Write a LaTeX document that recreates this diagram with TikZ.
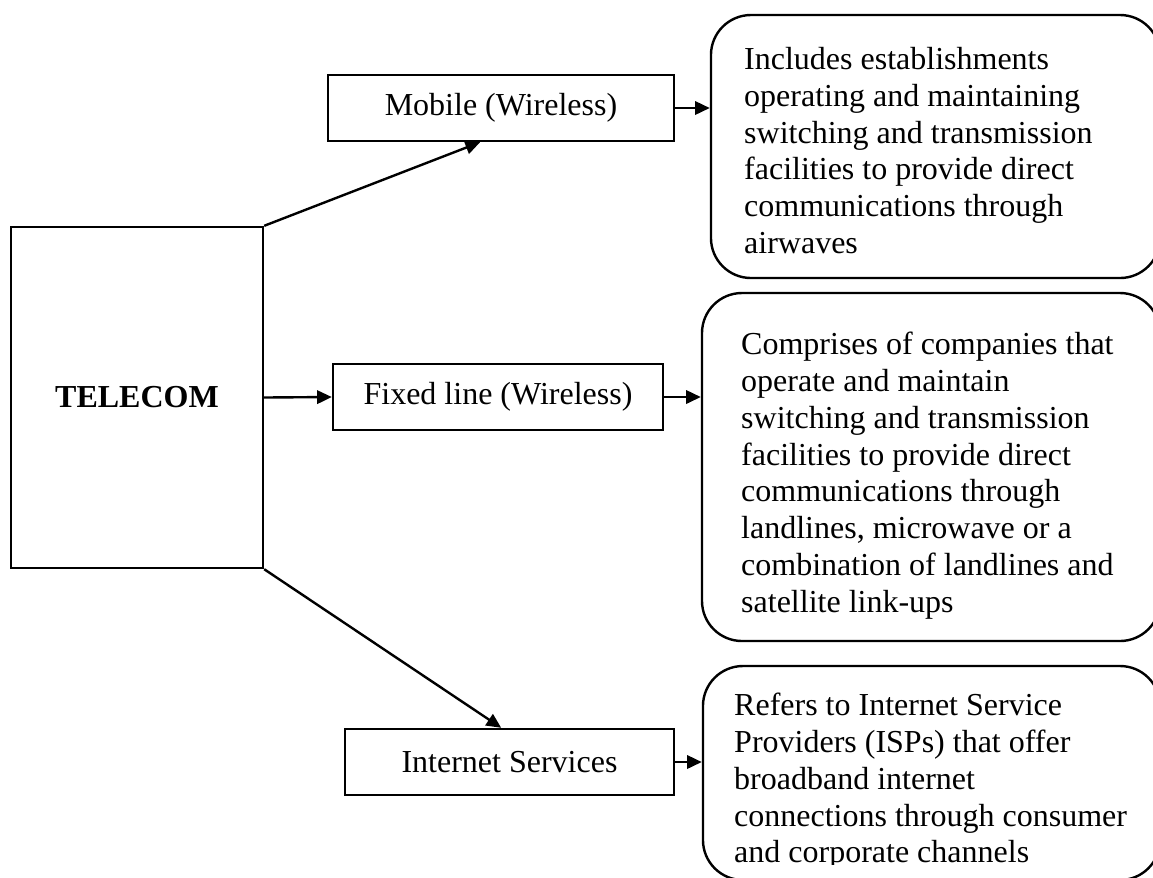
\documentclass[tikz,border=0pt]{standalone}
\usepackage{fontspec}
\setmainfont{Liberation Serif}
\usetikzlibrary{arrows.meta,calc}

\begin{document}
\begin{tikzpicture}[x=0.375pt,y=-0.375pt,line width=0.9pt,
        font=\fontsize{12}{13.8}\selectfont,
        box/.style={draw,rectangle,minimum height=24.75pt,inner sep=0pt},
        descbox/.style={draw,rectangle,rounded corners=15pt,inner sep=0pt},
        desctext/.style={anchor=north west,align=left,inner sep=0pt},
        link/.style={-{Triangle[length=5.5pt,width=5pt]}}]
            \useasboundingbox (0,0) rectangle (1153,877);
            \node [draw,minimum width=94.5pt,minimum height=127.875pt,font=\fontsize{12}{13.8}\selectfont\bfseries] (T) at (137,397.5) {TELECOM};
            \node [box,minimum width=129.75pt] (M) at (501,108) {Mobile (Wireless)};
            \node [box,minimum width=123.75pt] (F) at (498,397) {Fixed line (Wireless)};
            \node [box,minimum width=123.375pt] (I) at (509.5,762) {Internet Services};
            \node [descbox,minimum width=168.4pt,minimum height=98.625pt] (MD) at (935.5,146.5) {};
            \node [descbox,minimum width=171.75pt,minimum height=130.5pt] (FD) at (931,467) {};
            \node [descbox,minimum width=171.4pt,minimum height=80.25pt] (ID) at (931.5,773) {};
            \node [desctext] (MT) at (743,46) {Includes establishments\\operating and maintaining\\switching and transmission\\facilities to provide direct\\communications through\\airwaves};
            \node [desctext] (FT) at (740,331) {Comprises of companies that\\operate and maintain\\switching and transmission\\facilities to provide direct\\communications through\\landlines, microwave or a\\combination of landlines and\\satellite link-ups};
            \begin{scope}
                \clip (700,600) rectangle (1153,864);
                \node [desctext] (IT) at (733,692) {Refers to Internet Service\\Providers (ISPs) that offer\\broadband internet\\connections through consumer\\and corporate channels};
            \end{scope}
            % arrows out of TELECOM
            \draw [link] (T.north east) -- ($(M.south west)!0.44!(M.south east)$);
            \draw [link] (T.east) -- (F.west);
            \draw [link] (T.south east) -- ($(I.north west)!0.475!(I.north east)$);
            % arrows to the descriptions
            \draw [link] (M.east) -- (M.east -| MD.west);
            \draw [link] (F.east) -- (F.east -| FD.west);
            \draw [link] (I.east) -- (I.east -| ID.west);
        \end{tikzpicture}
\end{document}
